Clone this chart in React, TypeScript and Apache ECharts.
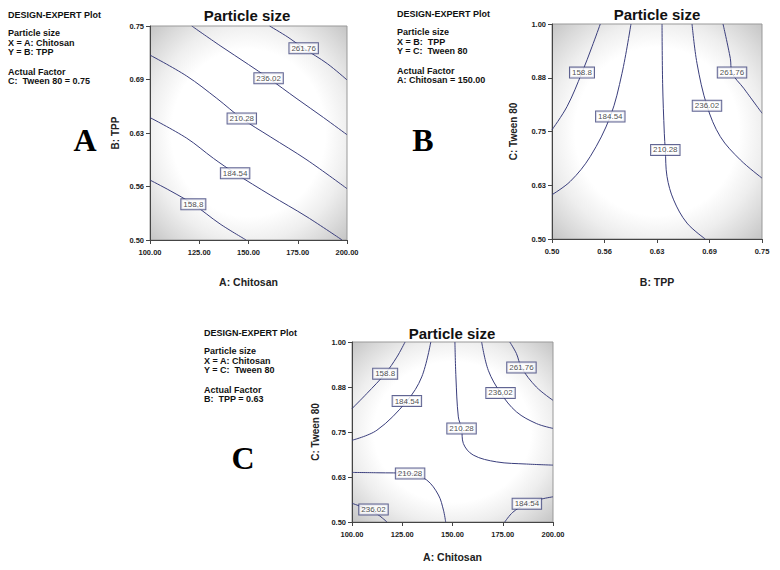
import React, { useEffect, useRef } from "react";
import * as echarts from "echarts";

// ---------- tick labels ----------
const chitosanTicks = ["100.00", "125.00", "150.00", "175.00", "200.00"];
const tppTicks = ["0.50", "0.56", "0.63", "0.69", "0.75"];
const tweenTicks = ["0.50", "0.63", "0.75", "0.88", "1.00"];

// ---------- Plot A: X = Chitosan, Y = TPP (contour points) ----------
const a158: number[][] = [[100, 0.570], [110.2, 0.5576], [122, 0.5417], [135.6, 0.5187], [148.8, 0.5]];
const a184: number[][] = [[100, 0.643], [118.6, 0.619], [132.2, 0.5954], [143.2, 0.578], [161, 0.5526], [179.7, 0.527], [197.5, 0.5]];
const a210: number[][] = [[100, 0.716], [118.6, 0.6916], [133.9, 0.6655], [146.6, 0.642], [161, 0.6207], [179.7, 0.5935], [200, 0.56]];
const a236: number[][] = [[121.2, 0.75], [135.6, 0.727], [150, 0.705], [160.2, 0.689], [174.6, 0.665], [188.1, 0.643], [200, 0.623]];
const a261: number[][] = [[160.7, 0.75], [170, 0.737], [178, 0.724], [190, 0.706], [200, 0.687]];
const aLabels: (number | string)[][] = [
  [122, 0.5417, "158.8"], [143.2, 0.578, "184.54"], [146.6, 0.642, "210.28"], [160.2, 0.689, "236.02"], [178, 0.724, "261.76"],
];

// ---------- Plot B: X = TPP, Y = Tween 80 ----------
const b158: number[][] = [[0.5, 0.754], [0.5179, 0.808], [0.5357, 0.887], [0.5476, 0.947], [0.5575, 1.0]];
const b184: number[][] = [[0.5, 0.603], [0.5218, 0.634], [0.5456, 0.692], [0.5694, 0.785], [0.5833, 0.885], [0.594, 1.0]];
const b210: number[][] = [[0.631, 1.0], [0.6317, 0.862], [0.6337, 0.746], [0.6349, 0.707], [0.6369, 0.6455], [0.6448, 0.591], [0.6607, 0.537], [0.6825, 0.5]];
const b236: number[][] = [[0.6667, 1.0], [0.6726, 0.9087], [0.6845, 0.8096], [0.7004, 0.738], [0.7242, 0.684], [0.75, 0.6416]];
const b261: number[][] = [[0.7036, 1.0], [0.7123, 0.92], [0.7143, 0.887], [0.7282, 0.8506], [0.75, 0.7926]];
const bLabels: (number | string)[][] = [
  [0.5357, 0.887, "158.8"], [0.5694, 0.785, "184.54"], [0.6349, 0.707, "210.28"], [0.6845, 0.8096, "236.02"], [0.7143, 0.887, "261.76"],
];

// ---------- Plot C: X = Chitosan, Y = Tween 80 ----------
const c158: number[][] = [[100, 0.815], [107.4, 0.857], [116.5, 0.912], [122.3, 0.958], [126.4, 1.0]];
const c184top: number[][] = [[100, 0.727], [112.4, 0.755], [127.3, 0.836], [134.7, 0.903], [139.2, 1.0]];
const c210top: number[][] = [[151.2, 1.0], [151.7, 0.903], [152.9, 0.792], [154.5, 0.76], [155.4, 0.718], [160.3, 0.686], [171.9, 0.667], [186.8, 0.661], [200, 0.658]];
const c236top: number[][] = [[164.5, 1.0], [167.8, 0.9214], [173.9, 0.8586], [181.8, 0.806], [191.7, 0.7736], [200, 0.76]];
const c261: number[][] = [[178.5, 1.0], [181.8, 0.968], [184.3, 0.929], [191.7, 0.875], [200, 0.838]];
const c210low: number[][] = [[100, 0.6377], [112.4, 0.6368], [128.9, 0.635], [137.2, 0.6165], [143, 0.575], [145.5, 0.533], [146.6, 0.5]];
const c236low: number[][] = [[100, 0.552], [108, 0.535], [113, 0.52], [117.4, 0.5]];
const c184low: number[][] = [[176, 0.5], [180, 0.527], [186, 0.548], [193, 0.562], [200, 0.57]];
const cLabels: (number | string)[][] = [
  [116.5, 0.912, "158.8"], [127.3, 0.836, "184.54"], [154.5, 0.76, "210.28"], [173.9, 0.8586, "236.02"], [184.3, 0.929, "261.76"],
  [128.9, 0.635, "210.28"], [110.7, 0.535, "236.02"], [187, 0.551, "184.54"],
];

// ---------- side text ----------
const infoA = ["Particle size", "X = A: Chitosan", "Y = B: TPP"];
const factorA = ["Actual Factor", "C:  Tween 80 = 0.75"];
const infoB = ["Particle size", "X = B:  TPP", "Y = C:  Tween 80"];
const factorB = ["Actual Factor", "A: Chitosan = 150.00"];
const infoC = ["Particle size", "X = A: Chitosan", "Y = C:  Tween 80"];
const factorC = ["Actual Factor", "B:  TPP = 0.63"];

const LINE = "#3a3e7c";
const SANS = "'Liberation Sans', Arial, sans-serif";

function tickFmt(ticks: string[], min: number, step: number) {
  return (v: number) => {
    const i = Math.round((v - min) / step);
    return ticks[i] ?? "";
  };
}

function bgGradient() {
  return new echarts.graphic.RadialGradient(0.5, 0.5, 0.71, [
    { offset: 0, color: "#ffffff" },
    { offset: 0.55, color: "#ffffff" },
    { offset: 0.72, color: "#eeeeee" },
    { offset: 0.86, color: "#dadada" },
    { offset: 1, color: "#c4c4c4" },
  ]);
}

function xAxisDef(gi: number, min: number, max: number, step: number, ticks: string[], name: string, gap: number) {
  return {
    gridIndex: gi, type: "value", min, max, interval: step,
    name, nameLocation: "middle", nameGap: gap,
    nameTextStyle: { fontFamily: SANS, fontWeight: "bold", fontSize: 10.5, color: "#222" },
    axisLine: { show: true, lineStyle: { color: "#444", width: 1 } },
    axisTick: { show: true, length: 4, lineStyle: { color: "#444" } },
    axisLabel: { formatter: tickFmt(ticks, min, step), fontFamily: SANS, fontWeight: "bold", fontSize: 7.5, color: "#222", margin: 8 },
    splitLine: { show: false },
  };
}
function yAxisDef(gi: number, min: number, max: number, step: number, ticks: string[], name: string, gap: number) {
  return {
    gridIndex: gi, type: "value", min, max, interval: step,
    name, nameLocation: "middle", nameGap: gap, nameRotate: 90,
    nameTextStyle: { fontFamily: SANS, fontWeight: "bold", fontSize: 10, color: "#222" },
    axisLine: { show: true, lineStyle: { color: "#444", width: 1 } },
    axisTick: { show: true, length: 4, lineStyle: { color: "#444" } },
    axisLabel: { formatter: tickFmt(ticks, min, step), fontFamily: SANS, fontWeight: "bold", fontSize: 7.5, color: "#222", margin: 6 },
    splitLine: { show: false },
  };
}

function lineSeries(gi: number, data: number[][]) {
  return {
    type: "line", xAxisIndex: gi, yAxisIndex: gi, data, showSymbol: false, symbol: "none",
    smooth: 0.35, lineStyle: { color: LINE, width: 1 }, z: 3, silent: true,
  };
}
function labelSeries(gi: number, data: (number | string)[][]) {
  return {
    type: "scatter", xAxisIndex: gi, yAxisIndex: gi, data, symbolSize: 1,
    itemStyle: { color: "rgba(0,0,0,0)" }, z: 5, silent: true,
    label: {
      show: true, position: "inside", formatter: (p: any) => p.data[2],
      backgroundColor: "#ffffff", borderColor: "#3a3e78", borderWidth: 1, padding: [1, 2, 0, 2],
      fontFamily: SANS, fontSize: 8, color: "#222", lineHeight: 9,
    },
  };
}

function textBlock(x: number, y0: number, info: string[], factor: string[]) {
  const els: any[] = [];
  const mk = (t: string, y: number) => ({
    type: "text", x, y,
    style: { text: t, fontFamily: SANS, fontWeight: "bold", fontSize: 9, fill: "#111", verticalAlign: "middle", align: "left" },
  });
  els.push(mk("DESIGN-EXPERT Plot", y0));
  info.forEach((t, i) => els.push(mk(t, y0 + 18 + i * 9.6)));
  factor.forEach((t, i) => els.push(mk(t, y0 + 57 + i * 9.2)));
  return els;
}
function bigLetter(t: string, x: number, y: number) {
  return {
    type: "text", x, y,
    style: { text: t, fontFamily: "'Liberation Serif', 'Times New Roman', serif", fontWeight: "bold", fontSize: 32, fill: "#000", align: "center", verticalAlign: "middle" },
  };
}

export default function App() {
  const ref = useRef<HTMLDivElement>(null);
  useEffect(() => {
    if (!ref.current) return;
    const chart = echarts.init(ref.current, undefined, { renderer: "svg" });
    const titleStyle = { fontFamily: SANS, fontWeight: "bold", fontSize: 15, color: "#111" };
    chart.setOption({
      animation: false,
      backgroundColor: "#ffffff",
      title: [
        { text: "Particle size", left: 247, top: 8, textAlign: "center", textStyle: titleStyle, padding: 0 },
        { text: "Particle size", left: 657, top: 7, textAlign: "center", textStyle: titleStyle, padding: 0 },
        { text: "Particle size", left: 452, top: 326, textAlign: "center", textStyle: titleStyle, padding: 0 },
      ],
      grid: [
        { left: 150, top: 26, width: 197, height: 214, show: true, backgroundColor: bgGradient(), borderColor: "#999", borderWidth: 1 },
        { left: 552, top: 24, width: 210, height: 215, show: true, backgroundColor: bgGradient(), borderColor: "#999", borderWidth: 1 },
        { left: 352, top: 342, width: 201, height: 180, show: true, backgroundColor: bgGradient(), borderColor: "#999", borderWidth: 1 },
      ],
      xAxis: [
        xAxisDef(0, 100, 200, 25, chitosanTicks, "A: Chitosan", 36),
        xAxisDef(1, 0.5, 0.75, 0.0625, tppTicks, "B: TPP", 37),
        xAxisDef(2, 100, 200, 25, chitosanTicks, "A: Chitosan", 29),
      ],
      yAxis: [
        yAxisDef(0, 0.5, 0.75, 0.0625, tppTicks, "B: TPP", 30),
        yAxisDef(1, 0.5, 1.0, 0.125, tweenTicks, "C: Tween 80", 34),
        yAxisDef(2, 0.5, 1.0, 0.125, tweenTicks, "C: Tween 80", 32),
      ],
      series: [
        lineSeries(0, a158), lineSeries(0, a184), lineSeries(0, a210), lineSeries(0, a236), lineSeries(0, a261),
        labelSeries(0, aLabels),
        lineSeries(1, b158), lineSeries(1, b184), lineSeries(1, b210), lineSeries(1, b236), lineSeries(1, b261),
        labelSeries(1, bLabels),
        lineSeries(2, c158), lineSeries(2, c184top), lineSeries(2, c210top), lineSeries(2, c236top), lineSeries(2, c261),
        lineSeries(2, c210low), lineSeries(2, c236low), lineSeries(2, c184low),
        labelSeries(2, cLabels),
      ],
      graphic: [
        ...textBlock(8, 15, infoA, factorA),
        ...textBlock(397, 14, infoB, factorB),
        ...textBlock(204, 333, infoC, factorC),
        bigLetter("A", 85, 140),
        bigLetter("B", 423, 140),
        bigLetter("C", 243, 458),
      ],
    });
    return () => chart.dispose();
  }, []);
  return <div ref={ref} style={{ position: "fixed", left: 0, top: 0, width: 780, height: 570 }} />;
}
